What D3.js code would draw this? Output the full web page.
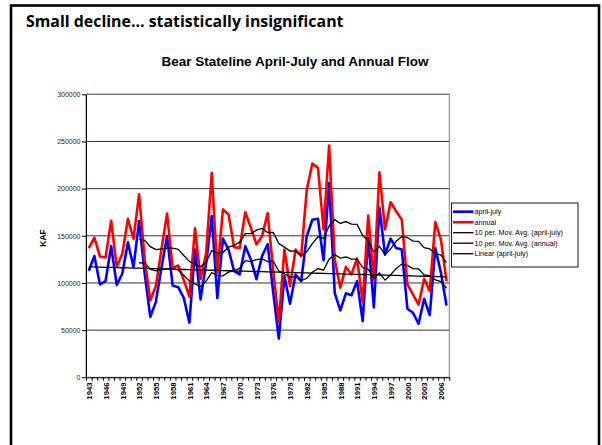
<!DOCTYPE html>
<html><head><meta charset="utf-8">
<script src="https://cdn.jsdelivr.net/npm/d3@7"></script>
<style>body{margin:0;background:#fff;}svg{display:block;}</style>
</head><body>
<script>
const years = d3.range(1943, 2008);
const aprilJuly = [113000,128500,98500,102000,139000,97800,110000,143000,117000,165500,
  110000,64000,80000,116000,149500,97400,95500,84000,58000,135500,
  82600,121000,171000,84000,147000,135500,112600,109000,139000,125000,
  104000,128500,141000,90000,41000,107000,78000,109000,102000,149600,
  167000,168000,124000,206000,89600,71000,89000,87000,102000,59600,
  148000,74000,180000,130000,147000,137000,135500,72700,68400,56800,
  83300,66000,137000,111000,76200];
const annual = [137000,148000,128000,127000,166000,117000,131000,168000,147000,194000,
  125000,81500,96700,135500,173700,116000,118500,103000,85500,158000,
  104000,132000,216700,111000,178000,172600,138000,137000,175000,158500,
  141000,149600,174000,113000,58500,135500,96700,135500,128500,199000,
  226600,222000,156700,245700,125000,95000,117000,109000,126000,79700,
  171500,103000,217400,156700,185600,176000,167000,98500,88000,77000,
  104500,91400,164500,146000,102000];
const yTicks = [0,50000,100000,150000,200000,250000,300000];
const xLabelYears = years.filter(y => (y - 1943) % 3 === 0);
const seriesNames = ["april-july","annual","10 per. Mov. Avg. (april-july)","10 per. Mov. Avg. (annual)","Linear (april-july)"];

const W = 602, H = 445;
const L = 86, R = 449.3, T = 94.3, B = 377.3;
const svg = d3.select("body").append("svg").attr("width", W).attr("height", H);
svg.append("rect").attr("width", W).attr("height", H).attr("fill", "#fff");

// outer frame
svg.append("rect").attr("x", 11).attr("y", 5.5).attr("width", 588).attr("height", 450)
  .attr("fill", "none").attr("stroke", "#000").attr("stroke-width", 2.6);

svg.append("text").attr("x", 26).attr("y", 27)
  .style("font-family", "'Open Sans', sans-serif").style("font-weight", "bold").style("font-size", "15.9px")
  .text("Small decline… statistically insignificant");

svg.append("text").attr("x", 295).attr("y", 65.5).attr("text-anchor", "middle")
  .style("font-family", "'Liberation Sans', Arial, sans-serif").style("font-weight", "bold").style("font-size", "13.5px")
  .text("Bear Stateline April-July and Annual Flow");

const x = d3.scaleBand().domain(years).range([L, R]).padding(0);
const xi = d3.scaleLinear().domain([0, years.length]).range([L, R]);
const y = d3.scaleLinear().domain([0, 300000]).range([B, T]);

// gridlines
svg.append("g").selectAll("line").data(yTicks.filter(v => v > 0)).join("line")
  .attr("x1", L).attr("x2", R).attr("y1", d => y(d)).attr("y2", d => y(d))
  .attr("stroke", "#333").attr("stroke-width", 1);
// plot border
svg.append("rect").attr("x", L).attr("y", T).attr("width", R - L).attr("height", B - T)
  .attr("fill", "none").attr("stroke", "#808080").attr("stroke-width", 1);

// y axis
const ya = svg.append("g").attr("transform", `translate(${L},0)`)
  .call(d3.axisLeft(y).tickValues(yTicks).tickSize(4).tickSizeOuter(0).tickFormat(d3.format("d")));
ya.select(".domain").attr("stroke", "#000");
ya.selectAll(".tick line").attr("stroke", "#000");
ya.selectAll("text").attr("x", -5.5).style("font-family", "'Liberation Sans', Arial, sans-serif")
  .style("font-size", "7px").attr("fill", "#222");

svg.append("text").attr("transform", "translate(46,238) rotate(-90)").attr("text-anchor", "middle")
  .style("font-family", "'Liberation Sans', Arial, sans-serif").style("font-weight", "bold").style("font-size", "8.5px")
  .text("KAF");

// x axis ticks at category boundaries
const xa = svg.append("g").attr("transform", `translate(0,${B})`)
  .call(d3.axisBottom(xi).tickValues(d3.range(0, years.length + 1)).tickSize(3.5).tickSizeOuter(0).tickFormat(""));
xa.select(".domain").attr("stroke", "#000");
xa.selectAll(".tick line").attr("stroke", "#000");

svg.append("g").selectAll("text").data(xLabelYears).join("text")
  .attr("transform", d => `translate(${x(d) + x.bandwidth() / 2 + 0.5},${B + 5}) rotate(-90)`)
  .attr("text-anchor", "end").attr("dy", "0.35em")
  .style("font-family", "'Liberation Sans', Arial, sans-serif").style("font-weight", "bold").style("font-size", "7.8px")
  .text(d => d);

const cx = d => x(d) + x.bandwidth() / 2;

// moving averages
function movAvg(arr, n) {
  return arr.map((v, i) => i < n - 1 ? null : d3.mean(arr.slice(i - n + 1, i + 1)));
}
const maAJ = movAvg(aprilJuly, 10);
const maAn = movAvg(annual, 10);
// linear trend
const xs = years.map((d, i) => i + 1);
const mx = d3.mean(xs), my = d3.mean(aprilJuly);
const slope = d3.sum(xs, (v, i) => (v - mx) * (aprilJuly[i] - my)) / d3.sum(xs, v => (v - mx) * (v - mx));
const icpt = my - slope * mx;
const trend = xs.map(v => icpt + slope * v);

const line = d3.line().defined(d => d[1] != null).x(d => cx(d[0])).y(d => y(d[1]));
const pts = arr => years.map((yr, i) => [yr, arr[i]]);

const g = svg.append("g");
g.append("path").attr("d", line(pts(aprilJuly))).attr("fill", "none").attr("stroke", "#0000ff").attr("stroke-width", 2.6).attr("stroke-linejoin", "round");
g.append("path").attr("d", line(pts(annual))).attr("fill", "none").attr("stroke", "#ff0000").attr("stroke-width", 2.6).attr("stroke-linejoin", "round");
g.append("path").attr("d", line(pts(maAJ))).attr("fill", "none").attr("stroke", "#000").attr("stroke-width", 1.3);
g.append("path").attr("d", line(pts(maAn))).attr("fill", "none").attr("stroke", "#000").attr("stroke-width", 1.3);
g.append("path").attr("d", line(pts(trend))).attr("fill", "none").attr("stroke", "#000").attr("stroke-width", 1.3);

// legend
const lg = svg.append("g");
lg.append("rect").attr("x", 451.5).attr("y", 203).attr("width", 126.5).attr("height", 64)
  .attr("fill", "#fff").attr("stroke", "#000").attr("stroke-width", 0.9);
const legColors = ["#0000ff", "#ff0000", "#000", "#000", "#000"];
const legW = [2.6, 2.6, 1.3, 1.3, 1.3];
seriesNames.forEach((name, i) => {
  const ly = 211.7 + i * 10.5;
  lg.append("line").attr("x1", 453).attr("x2", 473.5).attr("y1", ly).attr("y2", ly)
    .attr("stroke", legColors[i]).attr("stroke-width", legW[i]);
  lg.append("text").attr("x", 474.5).attr("y", ly).attr("dy", "0.35em")
    .style("font-family", "'Liberation Sans', Arial, sans-serif").style("font-size", "7.2px")
    .text(name);
});
</script>
</body></html>
